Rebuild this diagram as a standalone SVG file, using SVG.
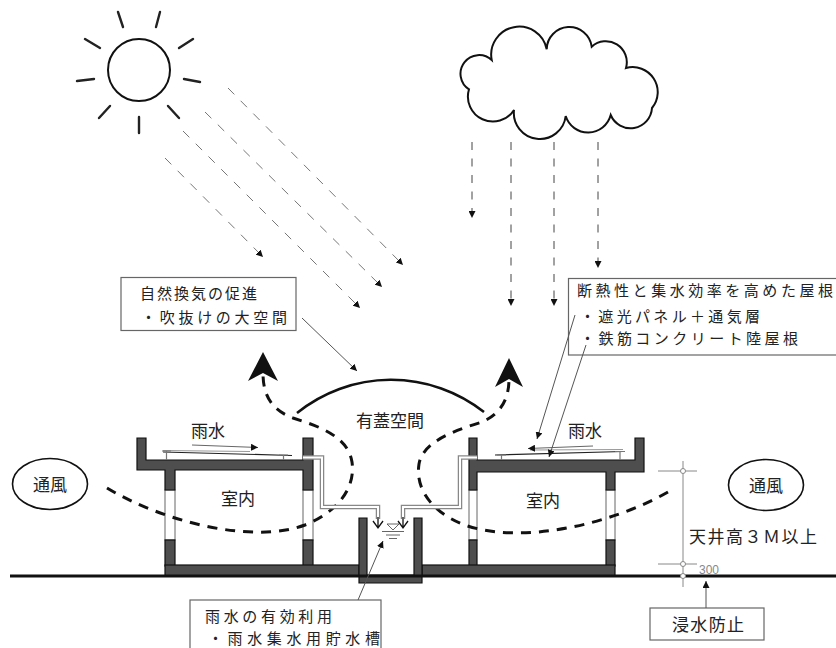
<svg xmlns="http://www.w3.org/2000/svg" width="836" height="648" viewBox="0 0 836 648">
  <style>
    .t { font-family: "Noto Sans CJK JP", "Noto Sans", sans-serif; font-size: 17px; fill: #222; }
    .tb { font-family: "Noto Sans CJK JP", "Noto Sans", sans-serif; font-size: 15px; fill: #222; }
    .box { fill: #fff; stroke: #666; stroke-width: 1.2; }
    .concrete { fill: #4e4e4e; stroke: #111; stroke-width: 1.2; }
    .window { fill: #fff; stroke: #666; stroke-width: 1; }
    .ray { stroke: #222; stroke-width: 2.4; stroke-linecap: round; fill: none; }
    .sunray { stroke: #777; stroke-width: 1; stroke-dasharray: 9 9; fill: none; }
    .rain { stroke: #444; stroke-width: 1; stroke-dasharray: 8 8.5; fill: none; }
    .flow { stroke: #111; stroke-width: 3; stroke-dasharray: 10 8; fill: none; }
    .leader { stroke: #555; stroke-width: 1; fill: none; }
    .pipeOut { stroke: #888; stroke-width: 4.5; fill: none; }
    .pipeIn { stroke: #fff; stroke-width: 2; fill: none; }
    .dim { stroke: #888; stroke-width: 1; fill: none; }
  </style>
  <defs>
    <marker id="ahs" markerUnits="userSpaceOnUse" markerWidth="8" markerHeight="7" refX="7" refY="3.5" orient="auto">
      <path d="M0,0 L7,3.5 L0,7 z" fill="#111"/>
    </marker>
  </defs>

  <rect width="836" height="648" fill="#fff"/>

  <!-- sun -->
  <g id="sun">
    <circle cx="139" cy="70" r="31" fill="#fff" stroke="#111" stroke-width="2"/>
    <path class="ray" d="M118,12 L123,27 M160,12 L156,27 M85,39 L100,48 M193,39 L179,48 M77,81 L94,79 M184,79 L200,82 M110,106 L99,118 M168,106 L179,118 M139,117 L139,133"/>
  </g>

  <!-- cloud -->
  <g id="cloud">
    <path d="M491.7,60 A28,28 0 0 1 546.7,49.3 A22.6,22.6 0 0 1 591.7,46.7 A21,21 0 0 1 626,68 A25,25 0 0 1 652,108 A21.5,21.5 0 0 1 610.7,115 A23.4,23.4 0 0 1 565.7,116 A26,26 0 0 1 514,110 A25,25 0 0 1 469,89.3 A18.6,18.6 0 1 1 491.7,60 Z" fill="#fff" stroke="#111" stroke-width="2"/>
  </g>

  <!-- covered atrium roof arc -->
  <g id="atrium-roof">
    <path d="M297,413 A150,150 0 0 1 484,412" fill="none" stroke="#111" stroke-width="2.6"/>
    <text class="t" x="390" y="426.5" text-anchor="middle">有蓋空間</text>
  </g>

  <!-- left building -->
  <g id="building-left">
    <rect class="window" x="165" y="490" width="10" height="50"/>
    <rect class="window" x="303" y="490" width="10" height="50"/>
    <rect class="concrete" x="165" y="540" width="10" height="26"/>
    <rect class="concrete" x="303" y="540" width="10" height="26"/>
    <rect class="concrete" x="165" y="565" width="194" height="11"/>
    <path class="concrete" d="M137,438 H146 V460 H303 V438 H313 V490 H303 V470 H175 V490 H165 V470 H137 Z"/>
    <!-- shading panel on the roof -->
    <path d="M163,450.5 L250,451.5" stroke="#999" stroke-width="1" fill="none"/>
    <path d="M163,452 L292,455.5" stroke="#222" stroke-width="1.2" fill="none"/>
    <path d="M162,451 H171 M166.5,451 V460 M279,455 H288 M283.5,455 V460" stroke="#777" stroke-width="1.2" fill="none"/>
    <text class="t" x="238" y="505" text-anchor="middle">室内</text>
    <text class="t" x="208" y="436.5" text-anchor="middle">雨水</text>
  </g>

  <!-- right building -->
  <g id="building-right">
    <rect class="window" x="469" y="490" width="8" height="50"/>
    <rect class="window" x="606" y="490" width="9" height="50"/>
    <rect class="concrete" x="469" y="540" width="8" height="26"/>
    <rect class="concrete" x="606" y="540" width="9" height="26"/>
    <rect class="concrete" x="422" y="565" width="193" height="11"/>
    <path class="concrete" d="M469,438 H477 V460 H635 V438 H644 V472 H615 V490 H606 V472 H477 V490 H469 Z"/>
    <path d="M530,450 L623,449.5" stroke="#999" stroke-width="1" fill="none"/>
    <path d="M495,455 L623,451.5" stroke="#222" stroke-width="1.2" fill="none"/>
    <path d="M497,455 H506 M501.5,455 V460 M615,451.5 H625 M620,451.5 V460" stroke="#777" stroke-width="1.2" fill="none"/>
    <text class="t" x="543" y="506.5" text-anchor="middle">室内</text>
    <text class="t" x="585" y="436.5" text-anchor="middle">雨水</text>
  </g>

  <!-- rainwater tank -->
  <g id="tank">
    <path class="concrete" d="M359,518 H367 V575 H414 V518 H422 V583 H359 Z"/>
    <path d="M387,524 H399 L393,530 Z" fill="none" stroke="#555" stroke-width="0.9"/>
    <path d="M382,531.5 H404 M386,535 H400 M389,538.5 H397" stroke="#555" stroke-width="0.9" fill="none"/>
  </g>

  <!-- ground line -->
  <g id="ground">
    <path d="M10,576 H836" stroke="#111" stroke-width="3" fill="none"/>
  </g>

  <!-- wind ellipses -->
  <g id="wind-left">
    <ellipse cx="50" cy="484" rx="37.5" ry="25.5" fill="#fff" stroke="#111" stroke-width="1.6"/>
    <text class="t" x="50" y="491" text-anchor="middle">通風</text>
  </g>
  <g id="wind-right">
    <ellipse cx="766" cy="485" rx="37.5" ry="25.5" fill="#fff" stroke="#111" stroke-width="1.6"/>
    <text class="t" x="766" y="492" text-anchor="middle">通風</text>
  </g>

  <!-- label boxes -->
  <g id="label-ventilation">
    <rect class="box" x="121" y="277.5" width="175" height="53"/>
    <text class="tb" x="140" y="299" textLength="117" lengthAdjust="spacing">自然換気の促進</text>
    <text class="tb" x="141" y="322.5" textLength="146" lengthAdjust="spacing">・吹抜けの大空間</text>
  </g>
  <g id="label-roof">
    <rect class="box" x="568.5" y="278.5" width="272" height="76.5"/>
    <text class="tb" x="577" y="296" textLength="256" lengthAdjust="spacing">断熱性と集水効率を高めた屋根</text>
    <text class="tb" x="580" y="322" textLength="180" lengthAdjust="spacing">・遮光パネル＋通気層</text>
    <text class="tb" x="580" y="344" textLength="218" lengthAdjust="spacing">・鉄筋コンクリート陸屋根</text>
  </g>
  <g id="label-rainwater">
    <rect class="box" x="190" y="600" width="191" height="50"/>
    <text class="tb" x="205" y="622" textLength="127" lengthAdjust="spacing">雨水の有効利用</text>
    <text class="tb" x="208" y="644" textLength="172" lengthAdjust="spacing">・雨水集水用貯水槽</text>
  </g>
  <g id="label-flood">
    <rect class="box" x="650" y="608" width="114" height="32"/>
    <text class="t" x="672" y="631" textLength="72" lengthAdjust="spacing">浸水防止</text>
  </g>

  <!-- ceiling height dimension -->
  <g id="dimension">
    <path class="dim" d="M683,461 V587 M658,471 H697 M658,564 H697"/>
    <circle cx="683" cy="471" r="2.5" fill="#fff" stroke="#888"/>
    <circle cx="683" cy="564" r="2.5" fill="#fff" stroke="#888"/>
    <circle cx="683" cy="576" r="2.5" fill="#fff" stroke="#888"/>
    <text x="699" y="573.5" font-family="Liberation Sans, Arial, sans-serif" font-size="12" fill="#888">300</text>
    <text class="t" x="689" y="543" textLength="128" lengthAdjust="spacing">天井高３Ｍ以上</text>
  </g>

  <!-- connectors -->
  <g id="connectors">
    <!-- sunlight -->
    <path class="sunray" d="M228,88 L403,265" marker-end="url(#ahs)"/>
    <path class="sunray" d="M205,112 L382,287" marker-end="url(#ahs)"/>
    <path class="sunray" d="M183,131 L360,308" marker-end="url(#ahs)"/>
    <path class="sunray" d="M165,158 L263,257" marker-end="url(#ahs)"/>
    <!-- rain -->
    <path class="rain" d="M472,142 V218" marker-end="url(#ahs)"/>
    <path class="rain" d="M511,142 V306" marker-end="url(#ahs)"/>
    <path class="rain" d="M554,142 V306" marker-end="url(#ahs)"/>
    <path class="rain" d="M598,142 V268" marker-end="url(#ahs)"/>

    <!-- cross ventilation and stack flow -->
    <path class="flow" d="M107,488 C160,520 250,545 305,525 C335,513 356,490 352,462 C348,436 318,426 293,418 C272,410 263,396 263,373"/>
    <path d="M263,352 L278,381 L263,373 L248,381 Z" fill="#111"/>
    <path class="flow" d="M668,492 C612,524 520,546 462,524 C433,512 415,490 419,464 C423,440 460,429 482,422 C500,414 509,400 509,379"/>
    <path d="M509,358 L523,387 L509,379 L495,387 Z" fill="#111"/>

    <!-- roof drains into the tank -->
    <path class="pipeOut" d="M303,457.5 H322 V507 H378 V519"/>
    <path class="pipeIn" d="M303,457.5 H322 V507 H378 V519"/>
    <path class="pipeOut" d="M477,457.5 H460 V507 H403 V519"/>
    <path class="pipeIn" d="M477,457.5 H460 V507 H403 V519"/>
    <path d="M378,517 V528 M373,521 L378,528 L383,521 M403,517 V528 M398,521 L403,528 L408,521" stroke="#111" stroke-width="1.3" fill="none"/>

    <!-- rainwater flow on roofs -->
    <path d="M192,445 L258,447.5" stroke="#666" stroke-width="1" fill="none" marker-end="url(#ahs)"/>
    <path d="M593,446 L528,448.5" stroke="#666" stroke-width="1" fill="none" marker-end="url(#ahs)"/>

    <!-- leaders -->
    <path class="leader" d="M302,318 L357,371" marker-end="url(#ahs)"/>
    <path class="leader" d="M575,315 L537,439" marker-end="url(#ahs)"/>
    <path class="leader" d="M586,345 L549,457" marker-end="url(#ahs)"/>
    <path class="leader" d="M358,600 L383,541" marker-end="url(#ahs)"/>
    <path class="leader" d="M706,608 V581" marker-end="url(#ahs)"/>
  </g>
</svg>
